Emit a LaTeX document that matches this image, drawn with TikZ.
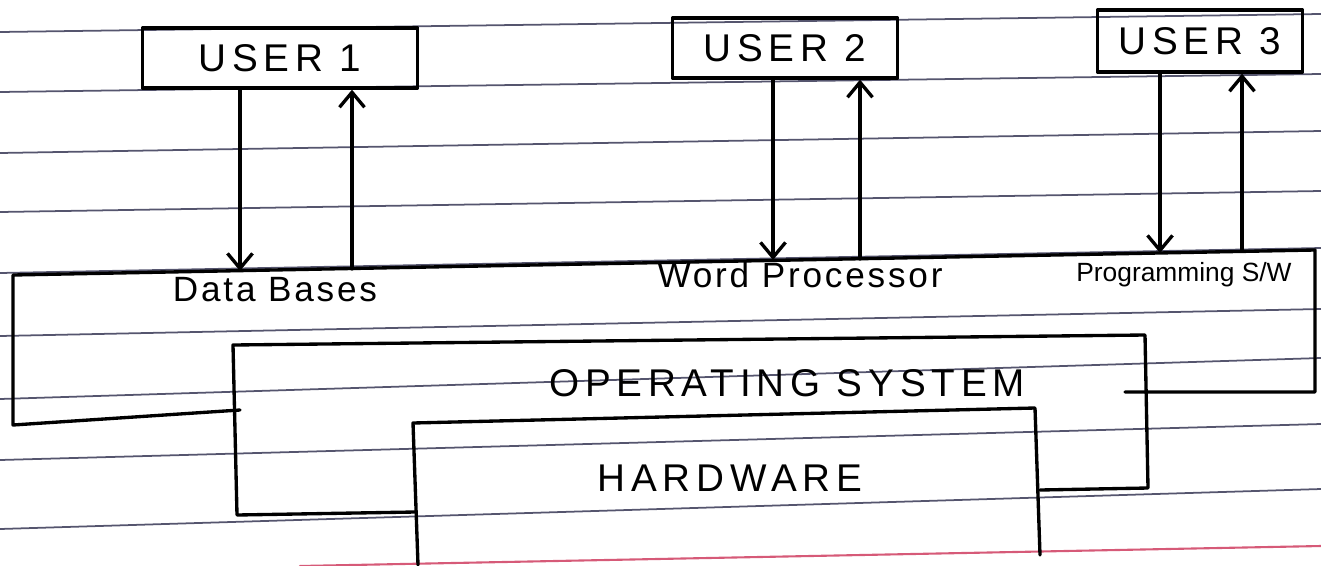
\documentclass[tikz,border=0pt]{standalone}
\usepackage{fontspec}
\setmainfont{Liberation Sans}
\newfontfamily\handcaps[LetterSpace=15]{Liberation Sans}
\newfontfamily\handlow[LetterSpace=8]{Liberation Sans}
\usepackage{xcolor}
\usetikzlibrary{arrows.meta}
\definecolor{ruleline}{RGB}{85,85,110}
\definecolor{marginred}{RGB}{214,90,120}

\begin{document}
\begin{tikzpicture}[line cap=round,line join=round,x=0.02cm,y=-0.02cm,
  pen/.style={line width=1.9pt},
  ruled/.style={line width=1pt,ruleline},
  userbox/.style={draw,pen,minimum height=1.2cm,inner sep=0pt,font=\handcaps\fontsize{22}{26}\selectfont},
  flow/.style={pen,-{Straight Barb[length=3mm,width=5mm]}},
  applabel/.style={font=\handlow\fontsize{20}{24}\selectfont},
  layerlabel/.style={font=\handcaps\fontsize{22}{26}\selectfont}]
\useasboundingbox (0,0) rectangle (1321,565);
% ruled paper
\foreach \yl/\yr in {32/14,92/74,153/131,212/191,273/248,336/309,399/358,460/424,529/489}
  \draw[ruled] (0,\yl) -- (1321,\yr);
\draw[line width=1.2pt,marginred] (300,566) -- (1321,546);
% users
\node[userbox,minimum width=5.5cm] (user1) at (280,58) {USER 1};
\node[userbox,minimum width=4.5cm] (user2) at (785,48) {USER 2};
\node[userbox,minimum width=4.1cm,minimum height=1.24cm] (user3) at (1200,41) {USER 3};
% application layer
\draw[pen] (240,410) -- (13,425) -- (13,275) -- (1315,250) -- (1315,392) -- (1125,392);
\coordinate (db down) at (240,271);
\coordinate (db up) at (352,269);
\coordinate (wp down) at (773,260);
\coordinate (wp up) at (860,259);
\coordinate (prog down) at (1160,253);
\coordinate (prog up) at (1242,251);
\node[applabel] (db) at (275,290) {Data Bases};
\node[applabel] (wp) at (800,275) {Word Processor};
\node[font=\fontsize{15}{18}\selectfont] (prog) at (1184,275) {Programming S/W};
% operating system
\draw[pen] (415,512) -- (237,515) -- (233,345) -- (1145,335) -- (1148,488) -- (1040,490);
\node[layerlabel] (os) at (787,383) {OPERATING SYSTEM};
% hardware
\draw[pen] (418,565) -- (413,423) -- (1035,408) -- (1040,555);
\node[layerlabel] (hw) at (730,478) {HARDWARE};
% requests and replies
\draw[flow] (user1.south -| db down) -- (db down);
\draw[flow] (db up) -- (user1.south -| db up);
\draw[flow] (user2.south -| wp down) -- (wp down);
\draw[flow] (wp up) -- (user2.south -| wp up);
\draw[flow] (user3.south -| prog down) -- (prog down);
\draw[flow] (prog up) -- (user3.south -| prog up);
\end{tikzpicture}
\end{document}
